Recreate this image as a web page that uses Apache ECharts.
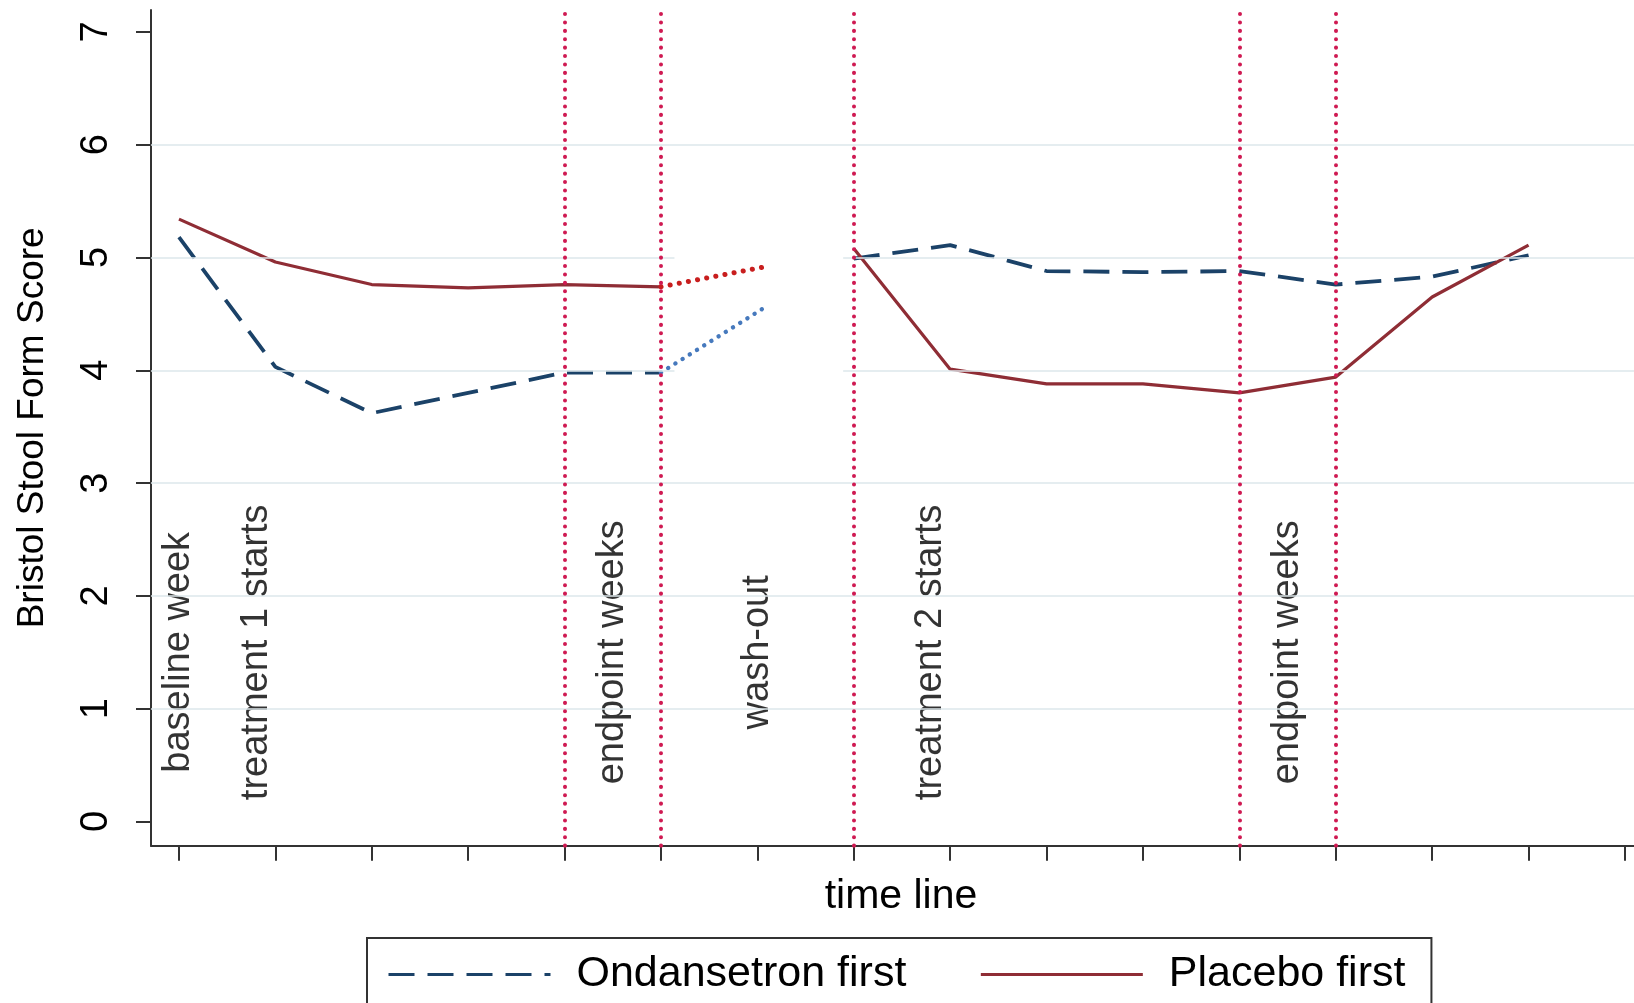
<!DOCTYPE html>
<html>
<head>
<meta charset="utf-8">
<script src="https://cdn.jsdelivr.net/npm/echarts@6/dist/echarts.min.js"></script>
<style>
  html, body { margin: 0; padding: 0; background: #fff; }
  #chart { width: 1634px; height: 1003px; }
</style>
</head>
<body>
<div id="chart"></div>
<script>
// Weekly mean Bristol Stool Form Score per crossover sequence
const weeks = [0, 1, 2, 3, 4, 5, 6, 7, 8, 9, 10, 11, 12, 13, 14];
const ondansetronFirst = [5.18, 4.03, 3.62, 3.80, 3.98, 3.98, null, 4.99, 5.11, 4.88, 4.87, 4.88, 4.76, 4.83, 5.02];
const placeboFirst     = [5.34, 4.96, 4.76, 4.73, 4.76, 4.74, null, 5.08, 4.01, 3.88, 3.88, 3.80, 3.94, 4.65, 5.11];

// Wash-out period (dotted)
const washoutWeeks = [5, 6.1];
const ondansetronWashout = [3.98, 4.57];
const placeboWashout = [4.74, 4.92];

// Axis ticks
const xTicks = [0, 1, 2, 3, 4, 5, 6, 7, 8, 9, 10, 11, 12, 13, 14, 15];
const yTicks = [0, 1, 2, 3, 4, 5, 6, 7];
const yGrid = [1, 2, 3, 4, 5, 6];

// Study phase markers and annotations
const phaseLines = [4, 5, 7, 11, 12];
const phaseText = ['baseline week', 'treatment 1 starts', 'endpoint weeks', 'wash-out', 'treatment 2 starts', 'endpoint weeks'];
const phaseTextWeek = [0, 0.8, 4.5, 6.0, 7.8, 11.5];
const phaseTextLevel = 1.5;

const FONT = '"Liberation Sans", Arial, Helvetica, sans-serif';
const NAVY = '#1b4268';
const MAROON = '#8f2d35';
const X_MIN = -0.29, X_MAX = 15.27;
const Y_MIN = -0.2145, Y_MAX = 7.194;
const GAP_FROM = 5.14, GAP_TO = 6.89;

const pairs = (xs, ys) => xs.map((x, i) => [x, ys[i]]);

// grid lines: the 4 and 5 lines are interrupted across the wash-out gap
const gridLineData = [];
yGrid.forEach(v => {
  if (v === 4 || v === 5) {
    gridLineData.push([{ coord: [X_MIN, v] }, { coord: [GAP_FROM, v] }]);
    gridLineData.push([{ coord: [GAP_TO, v] }, { coord: [X_MAX, v] }]);
  } else {
    gridLineData.push([{ coord: [X_MIN, v] }, { coord: [X_MAX, v] }]);
  }
});

const chart = echarts.init(document.getElementById('chart'), null, { renderer: 'canvas' });

chart.setOption({
  animation: false,
  backgroundColor: '#fff',
  textStyle: { fontFamily: FONT },
  // plot region runs past the right edge of the page
  grid: { left: 151, top: 10, width: 1500, height: 835.7, containLabel: false, outerBoundsMode: 'none' },
  xAxis: {
    type: 'value',
    min: X_MIN,
    max: X_MAX,
    name: 'time line',
    nameLocation: 'middle',
    nameGap: 30,
    nameTextStyle: { fontSize: 41, color: '#000', fontFamily: FONT },
    axisLine: { show: true, onZero: false, lineStyle: { color: '#333', width: 2 } },
    axisTick: { show: true, customValues: xTicks, length: 15, lineStyle: { color: '#333', width: 2 } },
    axisLabel: { show: false },
    splitLine: { show: false }
  },
  yAxis: {
    type: 'value',
    min: Y_MIN,
    max: Y_MAX,
    name: 'Bristol Stool Form Score',
    nameLocation: 'middle',
    nameGap: 100,
    nameTextStyle: { fontSize: 37, color: '#000', fontFamily: FONT },
    axisLine: { show: true, onZero: false, lineStyle: { color: '#333', width: 2 } },
    axisTick: { show: true, customValues: yTicks, length: 15, lineStyle: { color: '#333', width: 2 } },
    axisLabel: { show: true, customValues: yTicks, rotate: 90, margin: 35, fontSize: 38, color: '#000', fontFamily: FONT },
    splitLine: { show: false }
  },
  legend: {
    data: ['Ondansetron first', 'Placebo first'],
    left: 367,
    top: 938,
    orient: 'horizontal',
    padding: [15, 26, 15, 20],
    itemWidth: 162,
    itemHeight: 14,
    itemGap: 73,
    borderColor: '#333',
    borderWidth: 2,
    backgroundColor: '#fff',
    selectedMode: false,
    itemStyle: { opacity: 0 },
    lineStyle: { width: 3 },
    textStyle: { fontSize: 43, color: '#000', fontFamily: FONT, padding: [0, 0, 0, 21] }
  },
  series: [
    {
      name: 'gridlines',
      type: 'line',
      data: [],
      silent: true,
      z: 1,
      markLine: {
        silent: true,
        symbol: ['none', 'none'],
        label: { show: false },
        lineStyle: { color: '#dde7eb', width: 1.6, type: 'solid' },
        data: gridLineData
      }
    },
    {
      name: 'phases',
      type: 'line',
      data: [],
      silent: true,
      z: 2,
      markLine: {
        silent: true,
        symbol: ['none', 'none'],
        label: { show: false },
        lineStyle: { color: '#cf1a52', width: 4, type: [0.1, 8.3], cap: 'round' },
        data: phaseLines.map(w => ({ xAxis: w }))
      }
    },
    {
      name: 'Ondansetron first',
      type: 'line',
      data: pairs(weeks, ondansetronFirst),
      connectNulls: false,
      symbol: 'none',
      z: 3,
      lineStyle: { color: NAVY, width: 3.8, type: [26, 13] },
      itemStyle: { color: NAVY }
    },
    {
      name: 'Placebo first',
      type: 'line',
      data: pairs(weeks, placeboFirst),
      connectNulls: false,
      symbol: 'none',
      z: 3,
      lineStyle: { color: MAROON, width: 3.2, type: 'solid' },
      itemStyle: { color: MAROON }
    },
    {
      name: 'Ondansetron wash-out',
      type: 'line',
      data: pairs(washoutWeeks, ondansetronWashout),
      symbol: 'none',
      z: 3,
      lineStyle: { color: '#4679bd', width: 4.4, type: [0.1, 8.4], cap: 'round' }
    },
    {
      name: 'Placebo wash-out',
      type: 'line',
      data: pairs(washoutWeeks, placeboWashout),
      symbol: 'none',
      z: 3,
      lineStyle: { color: '#c81e1e', width: 5, type: [0.1, 9.2], cap: 'round' }
    },
    {
      name: 'phase labels',
      type: 'scatter',
      silent: true,
      z: 4,
      symbolSize: 1,
      itemStyle: { color: 'rgba(0,0,0,0)' },
      data: phaseText.map((t, i) => ({ name: t, value: [phaseTextWeek[i], phaseTextLevel] })),
      label: {
        show: true,
        position: 'inside',
        rotate: 90,
        formatter: '{b}',
        fontSize: 38,
        color: '#000',
        fontFamily: FONT
      }
    }
  ]
});
</script>
</body>
</html>
